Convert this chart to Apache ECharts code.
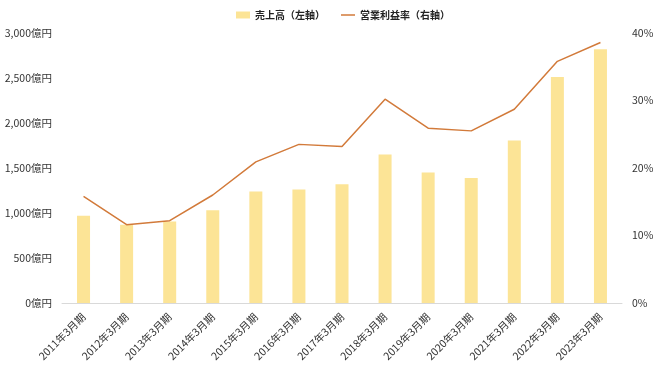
<!DOCTYPE html>
<html><head><meta charset="utf-8">
<script src="https://cdn.jsdelivr.net/npm/echarts@6/dist/echarts.min.js"></script>
<style>html,body{margin:0;padding:0;background:#fff;}#c{width:660px;height:371px;}</style>
</head><body><div id="c"></div>
<script>
const categories = ["2011年3月期","2012年3月期","2013年3月期","2014年3月期","2015年3月期","2016年3月期","2017年3月期","2018年3月期","2019年3月期","2020年3月期","2021年3月期","2022年3月期","2023年3月期"];
const sales = [970, 870, 905, 1030, 1240, 1260, 1320, 1650, 1450, 1390, 1805, 2510, 2820];
const margin = [15.8, 11.6, 12.2, 16.0, 20.9, 23.5, 23.2, 30.2, 25.9, 25.5, 28.7, 35.8, 38.6];
const leftTicks = [0, 500, 1000, 1500, 2000, 2500, 3000];
const rightTicks = [0, 10, 20, 30, 40];
const font = '"Noto Sans CJK JP", "Noto Sans", sans-serif';
const chart = echarts.init(document.getElementById('c'));
chart.setOption({
  animation: false,
  textStyle: {fontFamily: font},
  legend: {
    top: 5, left: 231, itemGap: 16, itemWidth: 14, itemHeight: 7,
    textStyle: {fontFamily: font, fontSize: 10, fontWeight: 'bold', color: '#222'},
    data: [{name: '売上高（左軸）', icon: 'rect'}, {name: '営業利益率（右軸）', icon: 'path://M0,0 L14,0 L14,1.5 L0,1.5 Z'}]
  },
  grid: {left: 62, right: 38, top: 33, bottom: 68},
  xAxis: {
    type: 'category', data: categories,
    axisLine: {lineStyle: {color: '#d9d9d9'}},
    axisTick: {show: false},
    axisLabel: {rotate: 45, color: '#333', fontSize: 10.5, fontFamily: font, margin: 12, interval: 0}
  },
  yAxis: [{
    type: 'value', min: leftTicks[0], max: leftTicks[leftTicks.length-1], interval: 500,
    splitLine: {show: false}, axisLine: {show: false}, axisTick: {show: false},
    axisLabel: {color: '#333', fontSize: 10.5, fontFamily: font, margin: 10,
      formatter: v => v.toLocaleString('en-US') + '億円'}
  }, {
    type: 'value', min: rightTicks[0], max: rightTicks[rightTicks.length-1], interval: 10,
    splitLine: {show: false}, axisLine: {show: false}, axisTick: {show: false},
    axisLabel: {color: '#333', fontSize: 10.5, fontFamily: font, margin: 10,
      formatter: v => v + '%'}
  }],
  series: [{
    name: '売上高（左軸）', type: 'bar', data: sales, barWidth: 13,
    itemStyle: {color: '#FCE496'}
  }, {
    name: '営業利益率（右軸）', type: 'line', yAxisIndex: 1, data: margin,
    symbol: 'none', lineStyle: {color: '#D27A3A', width: 1.5}, itemStyle: {color: '#D27A3A'}
  }]
});
</script></body></html>
